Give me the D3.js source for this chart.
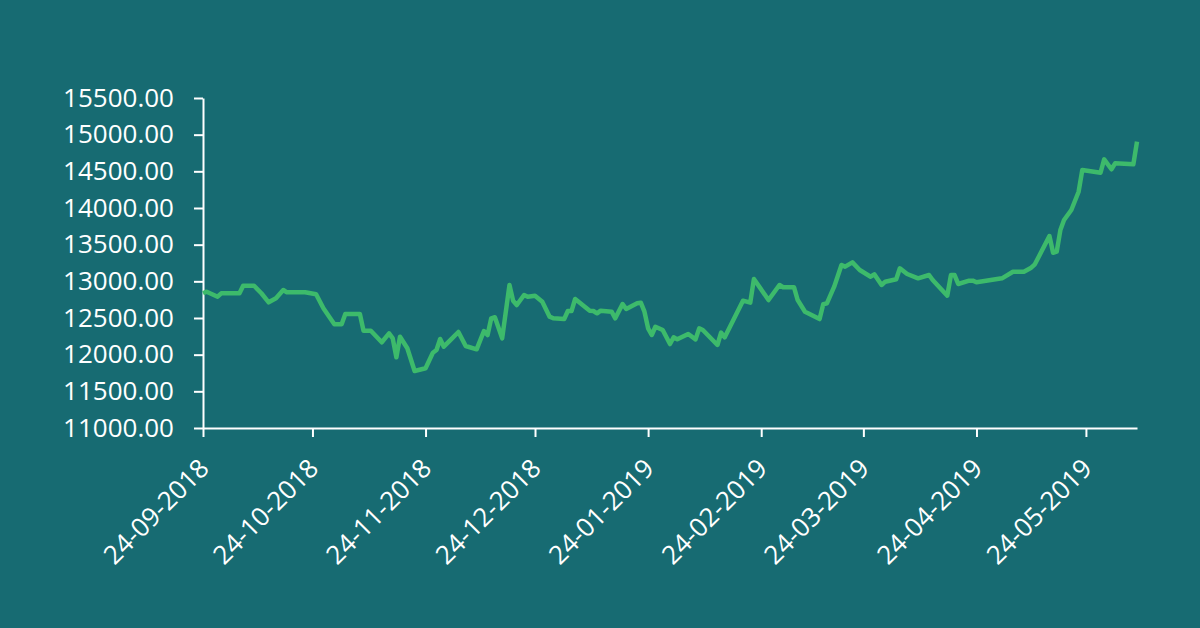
<!DOCTYPE html>
<html>
<head>
<meta charset="utf-8">
<script src="https://cdn.jsdelivr.net/npm/d3@7"></script>
<style>
  html, body { margin: 0; padding: 0; background: #176b72; }
  #chart { width: 1200px; height: 628px; }
  text { font-family: "Open Sans", sans-serif; }
</style>
</head>
<body>
<div id="chart"></div>
<script>
// index level
const dates = [
  "2018-09-24","2018-09-25","2018-09-28","2018-09-29","2018-10-04","2018-10-05","2018-10-08","2018-10-10",
  "2018-10-12","2018-10-14","2018-10-16","2018-10-17","2018-10-22","2018-10-25","2018-10-27","2018-10-30",
  "2018-11-01","2018-11-02","2018-11-06","2018-11-07","2018-11-09","2018-11-12","2018-11-14","2018-11-15",
  "2018-11-16","2018-11-17","2018-11-19","2018-11-21","2018-11-24","2018-11-26","2018-11-27","2018-11-28",
  "2018-11-29","2018-12-01","2018-12-03","2018-12-05","2018-12-08","2018-12-10","2018-12-11","2018-12-12",
  "2018-12-13","2018-12-15","2018-12-17","2018-12-18","2018-12-19","2018-12-21","2018-12-22","2018-12-24",
  "2018-12-26","2018-12-28","2018-12-29","2019-01-01","2019-01-02","2019-01-03","2019-01-04","2019-01-08",
  "2019-01-09","2019-01-10","2019-01-11","2019-01-14","2019-01-15","2019-01-17","2019-01-18","2019-01-21",
  "2019-01-22","2019-01-23","2019-01-24","2019-01-25","2019-01-26","2019-01-28","2019-01-30","2019-01-31",
  "2019-02-01","2019-02-04","2019-02-06","2019-02-07","2019-02-08","2019-02-12","2019-02-13","2019-02-14",
  "2019-02-19","2019-02-21","2019-02-22","2019-02-26","2019-03-01","2019-03-02","2019-03-05","2019-03-06",
  "2019-03-08","2019-03-12","2019-03-13","2019-03-14","2019-03-16","2019-03-18","2019-03-19","2019-03-21",
  "2019-03-23","2019-03-26","2019-03-27","2019-03-29","2019-03-30","2019-04-02","2019-04-03","2019-04-05",
  "2019-04-08","2019-04-11","2019-04-12","2019-04-16","2019-04-17","2019-04-18","2019-04-19","2019-04-22",
  "2019-04-23","2019-04-24","2019-05-01","2019-05-04","2019-05-07","2019-05-09","2019-05-10","2019-05-14",
  "2019-05-15","2019-05-16","2019-05-17","2019-05-18","2019-05-20","2019-05-22","2019-05-23","2019-05-28",
  "2019-05-29","2019-05-31","2019-06-01","2019-06-06","2019-06-07"
];
const values = [
  12837,12859,12790,12837,12837,12940,12940,12837,
  12714,12769,12882,12850,12850,12823,12632,12414,
  12414,12554,12554,12327,12327,12169,12291,12223,
  11964,12245,12087,11777,11814,12027,12064,12214,
  12109,12209,12309,12118,12073,12323,12268,12496,
  12510,12223,12950,12736,12677,12814,12790,12804,
  12722,12518,12496,12486,12595,12595,12759,12600,
  12595,12564,12600,12586,12496,12691,12623,12700,
  12709,12586,12359,12268,12381,12336,12145,12237,
  12209,12282,12209,12359,12336,12132,12300,12237,
  12736,12709,13032,12745,12950,12919,12919,12745,
  12586,12486,12687,12700,12927,13223,13200,13259,
  13154,13063,13096,12950,12995,13028,13178,13100,
  13041,13086,13018,12804,13086,13086,12964,13009,
  13009,12987,13041,13131,13131,13186,13232,13618,
  13390,13404,13700,13836,13973,14222,14518,14481,
  14664,14528,14609,14596,14904
];
const xTicks = ["2018-09-24","2018-10-24","2018-11-24","2018-12-24","2019-01-24",
                "2019-02-24","2019-03-24","2019-04-24","2019-05-24"];
const yTicks = [11000,11500,12000,12500,13000,13500,14000,14500,15000,15500];

const parse = d3.timeParse("%Y-%m-%d");
const data = dates.map((d, i) => ({ date: parse(d), value: values[i] }));

const svg = d3.select("#chart").append("svg")
  .attr("width", 1200)
  .attr("height", 628);

const x = d3.scaleTime()
  .domain([parse("2018-09-24"), parse("2019-06-07")])
  .range([203, 1137]);

const y = d3.scaleLinear()
  .domain([11000, 15500])
  .range([428, 98]);

// y axis
const yAxis = svg.append("g")
  .attr("transform", "translate(203,0)")
  .call(d3.axisLeft(y).tickValues(yTicks).tickSize(9).tickSizeOuter(0)
    .tickPadding(20).tickFormat(d3.format(".2f")));

// x axis, labels turned 45 degrees
const xAxis = svg.append("g")
  .attr("transform", "translate(0,428)")
  .call(d3.axisBottom(x).tickValues(xTicks.map(parse)).tickSize(9).tickSizeOuter(0)
    .tickFormat(d3.timeFormat("%d-%m-%Y")));

xAxis.selectAll("text")
  .attr("x", 0).attr("y", 0).attr("dy", 0)
  .attr("transform", "translate(7,42) rotate(-45)")
  .style("text-anchor", "end");

svg.selectAll(".domain, .tick line")
  .attr("stroke", "#ffffff")
  .attr("stroke-width", 2);
svg.selectAll(".tick text")
  .attr("fill", "#ffffff")
  .style("font-size", "26px");

// the index line
svg.append("path")
  .datum(data)
  .attr("fill", "none")
  .attr("stroke", "#3dba6b")
  .attr("stroke-width", 4.5)
  .attr("stroke-linejoin", "round")
  .attr("d", d3.line().x(d => x(d.date)).y(d => y(d.value)));
</script>
</body>
</html>
